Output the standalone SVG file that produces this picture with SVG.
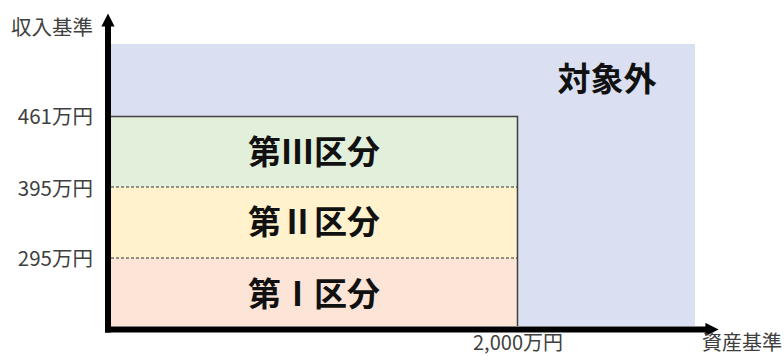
<svg xmlns="http://www.w3.org/2000/svg" width="784" height="356" viewBox="0 0 784 356">
<style>
.ax{font-family:"Noto Sans CJK JP","Liberation Sans",sans-serif;font-size:20.5px;fill:#404040}
.bt{font-size:20px}
.lb{font-family:"Noto Sans CJK JP","Liberation Sans",sans-serif;font-size:33px;font-weight:bold;fill:#111}
.dash{stroke:#333;stroke-width:1.2;stroke-dasharray:3 2;fill:none}
.axis{stroke:#000;stroke-width:6;fill:none}
</style>
<defs>
<marker id="ah" viewBox="0 0 10 10" refX="5" refY="5" markerWidth="2.2" markerHeight="2.2" orient="auto" markerUnits="strokeWidth">
<path d="M0,0 L10,5 L0,10 z" fill="#000"/>
</marker>
</defs>
<g id="outside">
<rect x="111" y="44" width="584" height="282" fill="#DAE0F2"/>
<text class="lb" x="607" y="77" text-anchor="middle" dominant-baseline="central">対象外</text>
</g>
<g id="zone3">
<rect x="111" y="116" width="407" height="71" fill="#E2EFDA"/>
<text class="lb" x="314" y="150" text-anchor="middle" dominant-baseline="central">第Ⅲ区分</text>
</g>
<g id="zone2">
<rect x="111" y="187" width="407" height="71" fill="#FFF2CC"/>
<text class="lb" x="314" y="220" text-anchor="middle" dominant-baseline="central">第Ⅱ区分</text>
</g>
<g id="zone1">
<rect x="111" y="258" width="407" height="68" fill="#FCE4D6"/>
<text class="lb" x="314" y="292" text-anchor="middle" dominant-baseline="central">第Ⅰ区分</text>
</g>
<g id="borders">
<path d="M108,116.5 H517.5 V326" fill="none" stroke="#404040" stroke-width="1.5"/>
<line class="dash" x1="111" y1="187" x2="517" y2="187"/>
<line class="dash" x1="111" y1="258" x2="517" y2="258"/>
</g>
<g id="axes">
<line class="axis" x1="108" y1="332.5" x2="108" y2="20" marker-end="url(#ah)"/>
<line class="axis" x1="105" y1="329.5" x2="712" y2="329.5" marker-end="url(#ah)"/>
</g>
<g id="labels">
<text class="ax" x="93" y="26" text-anchor="end" dominant-baseline="central">収入基準</text>
<text class="ax" x="93" y="115" text-anchor="end" dominant-baseline="central">461万円</text>
<text class="ax" x="93" y="187" text-anchor="end" dominant-baseline="central">395万円</text>
<text class="ax" x="93" y="257" text-anchor="end" dominant-baseline="central">295万円</text>
<text class="ax bt" x="518" y="341" text-anchor="middle" dominant-baseline="central">2,000万円</text>
<text class="ax bt" x="702" y="341" dominant-baseline="central">資産基準</text>
</g>
</svg>
